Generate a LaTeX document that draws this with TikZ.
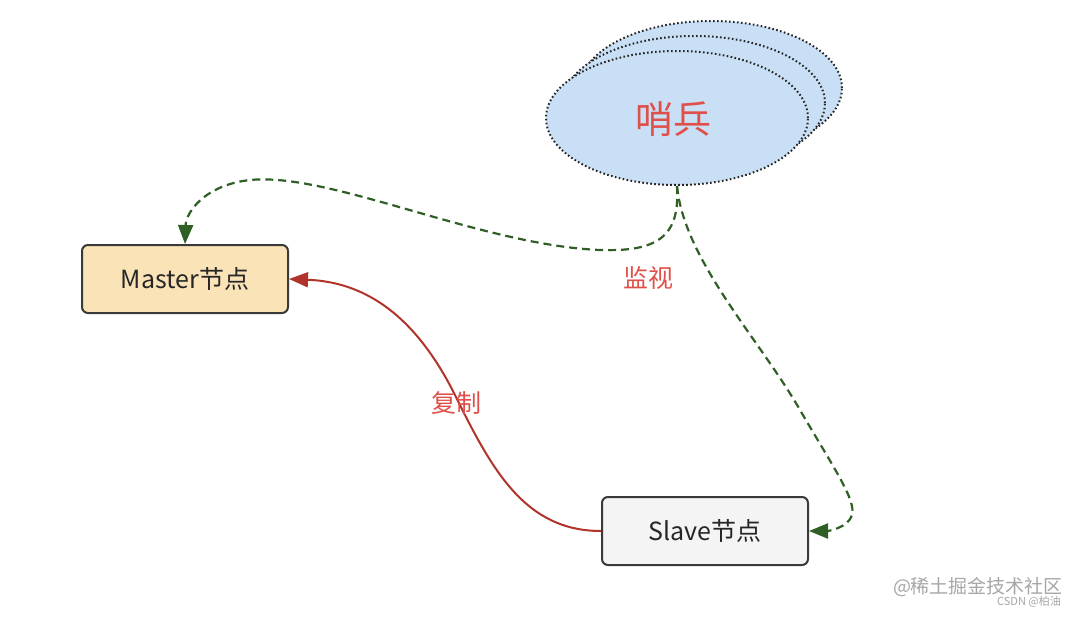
\documentclass[tikz,border=0pt]{standalone}
\usepackage{fontspec}
\setmainfont{Noto Sans CJK SC}
\usetikzlibrary{arrows.meta,shapes.geometric}
\definecolor{ellfill}{HTML}{C9DFF5}
\definecolor{masterfill}{HTML}{FBE3B8}
\definecolor{slavefill}{HTML}{F4F4F4}
\definecolor{boxline}{HTML}{3A3A3A}
\definecolor{monitor}{HTML}{2F5F25}
\definecolor{repl}{HTML}{B0342B}
\definecolor{labelred}{HTML}{E0504A}
\tikzset{
  ell/.style={ellipse,draw=black!85,line width=2pt,dash pattern=on 1.6pt off 2.4pt,fill=ellfill,minimum width=262pt,minimum height=134pt,inner sep=0pt},
  nodebox/.style={rectangle,rounded corners=6pt,draw=boxline,line width=2pt,minimum width=206pt,minimum height=68pt,font=\fontsize{25}{28}\selectfont,text=black!85},
  monline/.style={draw=monitor,dash pattern=on 8pt off 5pt,line width=2.2pt,-{Triangle[length=19pt,width=15pt]}},
  repline/.style={draw=repl,line width=2pt,-{Triangle[length=19pt,width=15pt]}},
  lbl/.style={text=labelred,font=\fontsize{25}{28}\selectfont},
  wm/.style={text=black!35}
}
\begin{document}
\begin{tikzpicture}[x=1pt,y=-1pt]
\useasboundingbox (0,0) rectangle (1076,616);
\node[ell] (s3) at (711,88) {};
\node[ell] (s2) at (694,103) {};
\node[ell] (s) at (677,118) {};
\node[text=labelred,font=\fontsize{38}{42}\selectfont] (st) at (673,119) {哨兵};
\node[nodebox,fill=masterfill] (m) at (185,279) {Master节点};
\node[nodebox,fill=slavefill] (sl) at (705,531) {Slave节点};
\draw[monline] (s.south) .. controls (680,235) and (660,252) .. (600,250)
  .. controls (480,245) and (330,172) .. (250,180)
  .. controls (205,185) and (186,212) .. (m.north);
\draw[monline] (s.south) .. controls (684,260) and (760,340) .. (800,410)
  .. controls (835,470) and (856,500) .. (852,515)
  .. controls (848,528) and (828,531) .. (sl.east);
\draw[repline] (sl.west) .. controls (525,531) and (492,470) .. (455,395)
  .. controls (415,315) and (365,282) .. (m.east);
\node[lbl] (l1) at (648,278) {监视};
\node[lbl] (l2) at (456,403) {复制};
\node[wm,font=\fontsize{19}{22}\selectfont] (w1) at (978,587) {@稀土掘金技术社区};
\node[wm,font=\fontsize{11}{13}\selectfont] (w2) at (1029,602) {CSDN @柏油};
\end{tikzpicture}
\end{document}
